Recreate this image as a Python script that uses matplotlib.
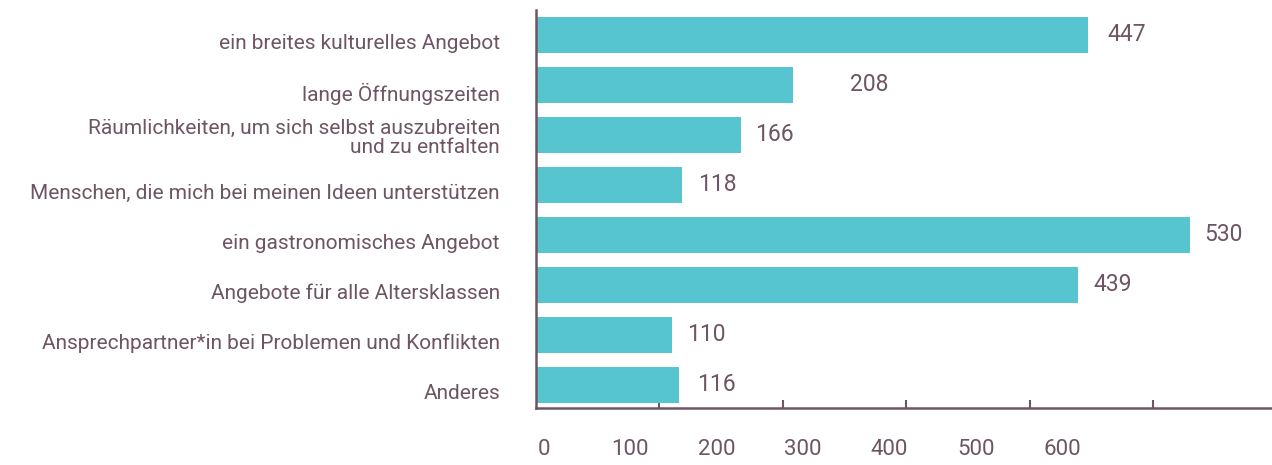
import matplotlib
matplotlib.use("Agg")
import matplotlib.pyplot as plt
import matplotlib.transforms as mtransforms

plt.rcParams['font.family'] = ['Roboto', 'DejaVu Sans']

categories = [
    "ein breites kulturelles Angebot",
    "lange Öffnungszeiten",
    "Räumlichkeiten, um sich selbst auszubreiten\nund zu entfalten",
    "Menschen, die mich bei meinen Ideen unterstützen",
    "ein gastronomisches Angebot",
    "Angebote für alle Altersklassen",
    "Ansprechpartner*in bei Problemen und Konflikten",
    "Anderes",
]
values = [447, 208, 166, 118, 530, 439, 110, 116]
axis_tick_values = [100, 200, 300, 400, 500]
axis_label_values = [0, 100, 200, 300, 400, 500, 600]

# styling / layout (not data)
BAR_COLOR = "#57C5D0"
TEXT_COLOR = "#6D5563"
AXIS_COLOR = "#6E5563"
value_label_pad_px = [20, 57, 14, 16, 14, 16, 15, 18]
cat_label_dy_px = [9, 9, 3, 9, 9, 9, 9, 9]

W, H, DPI = 1272, 465, 100
fig = plt.figure(figsize=(W / DPI, H / DPI), dpi=DPI)
left_px, right_px, top_px, bottom_px = 536, 1272, 10, 408
ax = fig.add_axes([left_px / W, 1 - bottom_px / H, (right_px - left_px) / W, (bottom_px - top_px) / H])

y = list(range(len(categories)))
ax.barh(y, values, height=0.72, color=BAR_COLOR, zorder=2)
ax.set_xlim(0, 736 / 1.234)
ax.set_ylim(7.47, -0.49)

for s in ["top", "right"]:
    ax.spines[s].set_visible(False)
for s in ["left", "bottom"]:
    ax.spines[s].set_color(AXIS_COLOR)
    ax.spines[s].set_linewidth(1.8)
    ax.spines[s].set_zorder(3)

ax.set_xticks(axis_tick_values)
ax.set_xticklabels([])
ax.tick_params(axis="x", direction="in", length=6, width=1.5, color=AXIS_COLOR)
ax.set_yticks([])

# category labels
for i, lab in enumerate(categories):
    tr = ax.transData + mtransforms.ScaledTranslation(-36 / DPI, -cat_label_dy_px[i] / DPI, fig.dpi_scale_trans)
    ax.text(0, i, lab, transform=tr, ha="right", va="center", fontsize=15,
            color=TEXT_COLOR, linespacing=1.0, multialignment="right")

# value labels
for i, v in enumerate(values):
    tr = ax.transData + mtransforms.ScaledTranslation(value_label_pad_px[i] / DPI, 0, fig.dpi_scale_trans)
    ax.text(v, i, str(v), transform=tr, ha="left", va="center", fontsize=16.5, color=TEXT_COLOR)

# separate label scale for the bottom tick labels (as in the original graphic)
ax2 = ax.twiny()
scale = (1062 - 544) / 600.0
ax2.set_xlim(-(544 - left_px) / scale, (right_px - 544) / scale)
ax2.xaxis.set_ticks_position("bottom")
ax2.xaxis.set_label_position("bottom")
for s in ax2.spines.values():
    s.set_visible(False)
ax2.set_xticks(axis_label_values)
ax2.set_xticklabels([str(v) for v in axis_label_values], fontsize=16, color=TEXT_COLOR)
ax2.tick_params(axis="x", length=0, pad=22)
ax2.set_ylim(ax.get_ylim())
ax2.set_yticks([])

fig.savefig("out.png", dpi=DPI)
